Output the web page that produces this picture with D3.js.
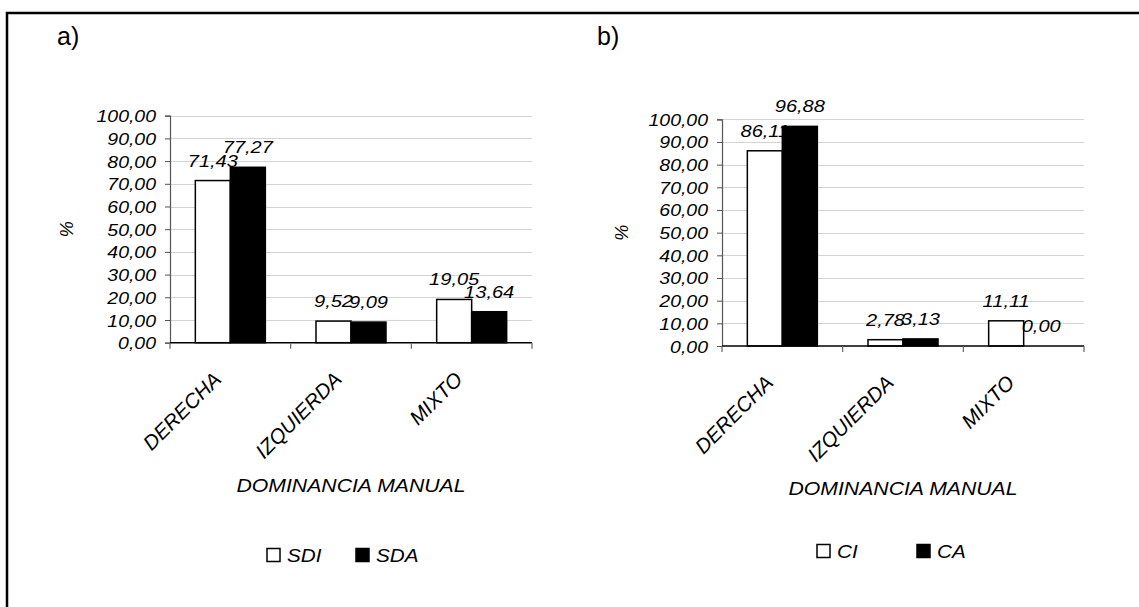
<!DOCTYPE html>
<html>
<head>
<meta charset="utf-8">
<script src="https://cdn.jsdelivr.net/npm/d3@7"></script>
<style>
  html, body { margin: 0; padding: 0; background: #fff; }
  svg { display: block; }
  text { font-family: "Liberation Sans", Arial, sans-serif; }
</style>
</head>
<body>
<svg id="fig" width="1139" height="607"></svg>
<script>
// Hand dominance percentages, two panels
const categories = ["DERECHA", "IZQUIERDA", "MIXTO"];
const yTicks = [0, 10, 20, 30, 40, 50, 60, 70, 80, 90, 100];

const seriesA = ["SDI", "SDA"];
const valuesSDI = [71.43, 9.52, 19.05];
const valuesSDA = [77.27, 9.09, 13.64];

const seriesB = ["CI", "CA"];
const valuesCI = [86.11, 2.78, 11.11];
const valuesCA = [96.88, 3.13, 0.00];

const panelTitles = ["a)", "b)"];
const xTitle = "DOMINANCIA MANUAL";
const yTitle = "%";

const fmt = v => v.toFixed(2).replace(".", ",");
const SX = 1.18; // horizontal stretch of the typeface

const svg = d3.select("#fig");

// frame (left and top edges)
svg.append("path")
  .attr("d", "M7,607 L7,13 L1139,13")
  .attr("fill", "none").attr("stroke", "#000").attr("stroke-width", 2.5);

function stretchedText(g, x, y, str, size, anchor) {
  return g.append("text")
    .attr("transform", `translate(${x},${y}) scale(${SX},1)`)
    .attr("text-anchor", anchor || "middle")
    .attr("font-size", size)
    .attr("font-style", "italic")
    .attr("fill", "#000")
    .text(str);
}

function panel(cfg) {
  const g = svg.append("g");
  const x = d3.scaleBand().domain(categories).range([cfg.x0, cfg.x1]).padding(0);
  const groupW = 70;
  const xs = d3.scaleBand().domain(cfg.series).range([0, groupW]).padding(0);
  const off = (x.step() - groupW) / 2;
  const y = d3.scaleLinear().domain([0, 100]).range([cfg.y0, cfg.y1]);

  // gridlines
  g.append("g").selectAll("line").data(yTicks.filter(t => t > 0)).join("line")
    .attr("x1", cfg.x0).attr("x2", cfg.x1)
    .attr("y1", d => Math.round(y(d)) + 0.5).attr("y2", d => Math.round(y(d)) + 0.5)
    .attr("stroke", "#d4d4d4").attr("stroke-width", 1.2);

  // y axis
  const ya = g.append("g").attr("transform", `translate(${cfg.x0},0)`)
    .call(d3.axisLeft(y).tickValues(yTicks).tickSize(5).tickFormat(fmt));
  ya.select(".domain").attr("stroke", "#555").attr("stroke-width", 1.2);
  ya.selectAll(".tick line").attr("stroke", "#555");
  ya.selectAll(".tick text")
    .attr("x", null).attr("dy", null)
    .attr("transform", `translate(-14,6) scale(${SX},1)`)
    .attr("font-size", 16.5).attr("font-style", "italic")
    .attr("font-family", "Liberation Sans, Arial, sans-serif")
    .attr("fill", "#000");

  // bars
  const data = [];
  categories.forEach((c, i) => {
    cfg.series.forEach((s, j) => data.push({ c, s, v: cfg.values[j][i], j }));
  });
  g.append("g").selectAll("rect").data(data).join("rect")
    .attr("x", d => x(d.c) + off + xs(d.s))
    .attr("y", d => y(d.v))
    .attr("width", xs.bandwidth())
    .attr("height", d => y(0) - y(d.v))
    .attr("fill", d => d.j === 0 ? "#fff" : "#000")
    .attr("stroke", "#000").attr("stroke-width", 1.5);

  // x axis
  const xa = g.append("g").attr("transform", `translate(0,${cfg.y0})`);
  xa.append("line").attr("x1", cfg.x0).attr("x2", cfg.x1)
    .attr("stroke", "#000").attr("stroke-width", 1.5);
  xa.selectAll(".xt").data(categories.map(c => x(c)).concat([cfg.x1])).join("line")
    .attr("class", "xt")
    .attr("x1", d => d).attr("x2", d => d).attr("y1", 0).attr("y2", 6)
    .attr("stroke", "#666").attr("stroke-width", 1.2);

  // category labels
  categories.forEach(c => {
    g.append("text")
      .attr("transform", `translate(${x(c) + x.step() / 2 - 8},${cfg.y0 + 38}) rotate(-45)`)
      .attr("text-anchor", "end")
      .attr("font-size", 20.5).attr("font-style", "italic")
      .text(c);
  });

  // value labels
  g.append("g").selectAll("text").data(data).join("text")
    .attr("transform", d => `translate(${x(d.c) + off + xs(d.s) + xs.bandwidth() / 2},${y(d.v) - 14}) scale(${SX},1)`)
    .attr("text-anchor", "middle")
    .attr("font-size", 17).attr("font-style", "italic")
    .text(d => fmt(d.v));

  // axis titles
  stretchedText(g, (cfg.x0 + cfg.x1) / 2, cfg.xTitleY, xTitle, 18);
  g.append("text")
    .attr("transform", `translate(${cfg.yTitleX},${(cfg.y0 + cfg.y1) / 2}) rotate(-90)`)
    .attr("text-anchor", "middle").attr("font-size", 18).attr("font-style", "italic")
    .text(yTitle);

  // panel title
  g.append("text").attr("x", cfg.titleX).attr("y", 45)
    .attr("font-size", 25).attr("font-family", "DejaVu Sans, sans-serif")
    .attr("font-weight", 200)
    .text(cfg.title);

  // legend
  const lg = g.append("g");
  cfg.series.forEach((s, j) => {
    const lx = cfg.legendX[j];
    lg.append("rect").attr("x", lx).attr("y", cfg.legendY - 6.5)
      .attr("width", 13).attr("height", 13)
      .attr("fill", j === 0 ? "#fff" : "#000").attr("stroke", "#000").attr("stroke-width", 1.5);
    stretchedText(lg, lx + 20, cfg.legendY + 6.5, s, 17.5, "start");
  });
}

panel({
  title: panelTitles[0], titleX: 57,
  series: seriesA, values: [valuesSDI, valuesSDA],
  x0: 170, x1: 532, y0: 342.7, y1: 115.7,
  xTitleY: 492, yTitleX: 73,
  legendX: [267, 356], legendY: 555
});

panel({
  title: panelTitles[1], titleX: 597,
  series: seriesB, values: [valuesCI, valuesCA],
  x0: 722, x1: 1084, y0: 346, y1: 119.3,
  xTitleY: 495, yTitleX: 628,
  legendX: [817, 917], legendY: 551
});
</script>
</body>
</html>
